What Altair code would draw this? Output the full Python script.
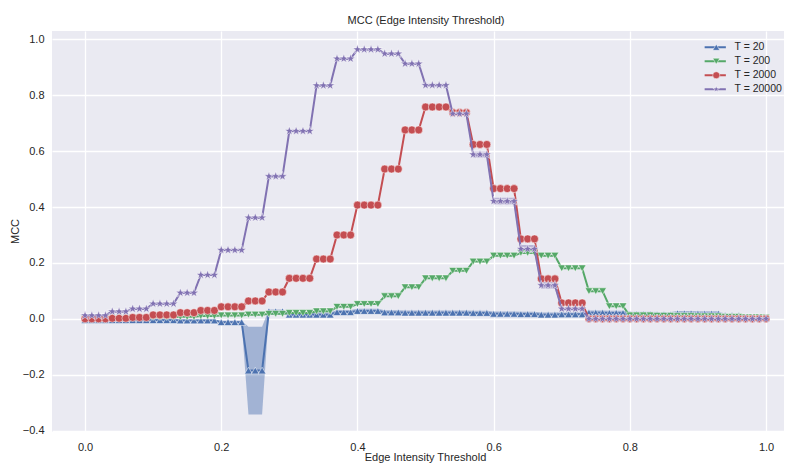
import altair as alt
import pandas as pd

FONT = "Liberation Sans, Arial, sans-serif"
TXT = "#262626"

series_labels = ["T = 20", "T = 200", "T = 2000", "T = 20000"]
series_colors = ["#4C72B0", "#55A868", "#C44E52", "#8172B2"]
STAR = ("M0,-1L0.2245,-0.309L0.951,-0.309L0.363,0.118L0.588,0.809L0,0.382"
        "L-0.588,0.809L-0.363,0.118L-0.951,-0.309L-0.2245,-0.309Z")
LINE_SYM = "M-3,0L3,0"
series_shapes = ["triangle-up", "triangle-down", "circle", STAR]
series_sizes = [60, 60, 64, 95]

x_ticks = [0.0, 0.2, 0.4, 0.6, 0.8, 1.0]
y_ticks = [-0.4, -0.2, 0.0, 0.2, 0.4, 0.6, 0.8, 1.0]

thresholds = [
    0.00, 0.01, 0.02, 0.03, 0.04, 0.05, 0.06, 0.07, 0.08, 0.09,
    0.10, 0.11, 0.12, 0.13, 0.14, 0.15, 0.16, 0.17, 0.18, 0.19,
    0.20, 0.21, 0.22, 0.23, 0.24, 0.25, 0.26, 0.27, 0.28, 0.29,
    0.30, 0.31, 0.32, 0.33, 0.34, 0.35, 0.36, 0.37, 0.38, 0.39,
    0.40, 0.41, 0.42, 0.43, 0.44, 0.45, 0.46, 0.47, 0.48, 0.49,
    0.50, 0.51, 0.52, 0.53, 0.54, 0.55, 0.56, 0.57, 0.58, 0.59,
    0.60, 0.61, 0.62, 0.63, 0.64, 0.65, 0.66, 0.67, 0.68, 0.69,
    0.70, 0.71, 0.72, 0.73, 0.74, 0.75, 0.76, 0.77, 0.78, 0.79,
    0.80, 0.81, 0.82, 0.83, 0.84, 0.85, 0.86, 0.87, 0.88, 0.89,
    0.90, 0.91, 0.92, 0.93, 0.94, 0.95, 0.96, 0.97, 0.98, 0.99,
    1.00,
]

mcc_t20 = [
    -0.005, -0.005, -0.005, -0.005,
    -0.005, -0.005, -0.005,
    -0.005, -0.005, -0.005,
    -0.005, -0.005, -0.005, -0.005,
    -0.006, -0.006, -0.006,
    -0.006, -0.006, -0.006,
    -0.012, -0.012, -0.012, -0.012,
    -0.185, -0.185, -0.185,
    0.027, 0.027, 0.027,
    0.015, 0.015, 0.015, 0.015,
    0.015, 0.015, 0.015,
    0.024, 0.024, 0.024,
    0.028, 0.028, 0.028, 0.028,
    0.023, 0.023, 0.023,
    0.022, 0.022, 0.022,
    0.022, 0.022, 0.022, 0.022,
    0.022, 0.022, 0.022,
    0.021, 0.021, 0.021,
    0.018, 0.018, 0.018, 0.018,
    0.017, 0.017, 0.017,
    0.015, 0.015, 0.015,
    0.016, 0.016, 0.016, 0.016,
    0.022, 0.022, 0.022,
    0.021, 0.021, 0.021,
    0.017, 0.017, 0.017, 0.017,
    0.016, 0.016, 0.016,
    0.020, 0.020, 0.020,
    0.019, 0.019, 0.019, 0.019,
    0.012, 0.012, 0.012,
    0.006, 0.006, 0.006,
    0.003,
]

err_t20 = [
    0.004, 0.004, 0.004, 0.004,
    0.004, 0.004, 0.004,
    0.004, 0.004, 0.004,
    0.004, 0.004, 0.004, 0.004,
    0.004, 0.004, 0.004,
    0.004, 0.004, 0.004,
    0.005, 0.005, 0.005, 0.005,
    0.157, 0.157, 0.157,
    0.006, 0.006, 0.006,
    0.008, 0.008, 0.008, 0.008,
    0.008, 0.008, 0.008,
    0.008, 0.008, 0.008,
    0.008, 0.008, 0.008, 0.008,
    0.008, 0.008, 0.008,
    0.008, 0.008, 0.008,
    0.008, 0.008, 0.008, 0.008,
    0.008, 0.008, 0.008,
    0.008, 0.008, 0.008,
    0.008, 0.008, 0.008, 0.008,
    0.008, 0.008, 0.008,
    0.008, 0.008, 0.008,
    0.008, 0.008, 0.008, 0.008,
    0.008, 0.008, 0.008,
    0.008, 0.008, 0.008,
    0.008, 0.008, 0.008, 0.008,
    0.008, 0.008, 0.008,
    0.008, 0.008, 0.008,
    0.008, 0.008, 0.008, 0.008,
    0.006, 0.006, 0.006,
    0.004, 0.004, 0.004,
    0.002,
]

mcc_t200 = [
    0.003, 0.003, 0.003, 0.003,
    0.003, 0.003, 0.003,
    0.004, 0.004, 0.004,
    0.006, 0.006, 0.006, 0.006,
    0.007, 0.007, 0.007,
    0.010, 0.010, 0.010,
    0.012, 0.012, 0.012, 0.012,
    0.015, 0.015, 0.015,
    0.018, 0.018, 0.018,
    0.021, 0.021, 0.021, 0.021,
    0.027, 0.027, 0.027,
    0.043, 0.043, 0.043,
    0.053, 0.053, 0.053, 0.053,
    0.081, 0.081, 0.081,
    0.113, 0.113, 0.113,
    0.145, 0.145, 0.145, 0.145,
    0.172, 0.172, 0.172,
    0.205, 0.205, 0.205,
    0.226, 0.226, 0.226, 0.226,
    0.236, 0.236, 0.236,
    0.226, 0.226, 0.226,
    0.181, 0.181, 0.181, 0.181,
    0.099, 0.099, 0.099,
    0.045, 0.045, 0.045,
    0.012, 0.012, 0.012, 0.012,
    0.011, 0.011, 0.011,
    0.010, 0.010, 0.010,
    0.009, 0.009, 0.009, 0.009,
    0.007, 0.007, 0.007,
    0.005, 0.005, 0.005,
    0.004,
]

mcc_t2000 = [
    0.000, 0.000, 0.000, 0.000,
    0.002, 0.002, 0.002,
    0.005, 0.005, 0.005,
    0.014, 0.014, 0.014, 0.014,
    0.022, 0.022, 0.022,
    0.030, 0.030, 0.030,
    0.043, 0.043, 0.043, 0.043,
    0.064, 0.064, 0.064,
    0.096, 0.096, 0.096,
    0.145, 0.145, 0.145, 0.145,
    0.214, 0.214, 0.214,
    0.300, 0.300, 0.300,
    0.407, 0.407, 0.407, 0.407,
    0.536, 0.536, 0.536,
    0.676, 0.676, 0.676,
    0.758, 0.758, 0.758, 0.758,
    0.738, 0.738, 0.738,
    0.624, 0.624, 0.624,
    0.466, 0.466, 0.466, 0.466,
    0.286, 0.286, 0.286,
    0.143, 0.143, 0.143,
    0.057, 0.057, 0.057, 0.057,
    0.000, 0.000, 0.000,
    0.000, 0.000, 0.000,
    0.000, 0.000, 0.000, 0.000,
    0.000, 0.000, 0.000,
    0.000, 0.000, 0.000,
    0.000, 0.000, 0.000, 0.000,
    0.000, 0.000, 0.000,
    0.000, 0.000, 0.000,
    0.000,
]

mcc_t20000 = [
    0.012, 0.012, 0.012, 0.012,
    0.026, 0.026, 0.026,
    0.036, 0.036, 0.036,
    0.054, 0.054, 0.054, 0.054,
    0.093, 0.093, 0.093,
    0.157, 0.157, 0.157,
    0.246, 0.246, 0.246, 0.246,
    0.362, 0.362, 0.362,
    0.510, 0.510, 0.510,
    0.672, 0.672, 0.672, 0.672,
    0.835, 0.835, 0.835,
    0.931, 0.931, 0.931,
    0.964, 0.964, 0.964, 0.964,
    0.949, 0.949, 0.949,
    0.913, 0.913, 0.913,
    0.836, 0.836, 0.836, 0.836,
    0.734, 0.734, 0.734,
    0.588, 0.588, 0.588,
    0.421, 0.421, 0.421, 0.421,
    0.250, 0.250, 0.250,
    0.120, 0.120, 0.120,
    0.036, 0.036, 0.036, 0.036,
    0.000, 0.000, 0.000,
    0.000, 0.000, 0.000,
    0.000, 0.000, 0.000, 0.000,
    0.000, 0.000, 0.000,
    0.000, 0.000, 0.000,
    0.000, 0.000, 0.000, 0.000,
    0.000, 0.000, 0.000,
    0.000, 0.000, 0.000,
    0.000,
]

err_t20000 = [
    0.004, 0.004, 0.004, 0.004,
    0.004, 0.004, 0.004,
    0.004, 0.004, 0.004,
    0.004, 0.004, 0.004, 0.004,
    0.004, 0.004, 0.004,
    0.004, 0.004, 0.004,
    0.004, 0.004, 0.004, 0.004,
    0.004, 0.004, 0.004,
    0.004, 0.004, 0.004,
    0.004, 0.004, 0.004, 0.004,
    0.004, 0.004, 0.004,
    0.004, 0.004, 0.004,
    0.004, 0.004, 0.004, 0.004,
    0.004, 0.004, 0.004,
    0.004, 0.004, 0.004,
    0.004, 0.004, 0.004, 0.004,
    0.006, 0.006, 0.006,
    0.011, 0.011, 0.011,
    0.012, 0.012, 0.012, 0.012,
    0.014, 0.014, 0.014,
    0.012, 0.012, 0.012,
    0.006, 0.006, 0.006, 0.006,
    0.002, 0.002, 0.002,
    0.002, 0.002, 0.002,
    0.002, 0.002, 0.002, 0.002,
    0.002, 0.002, 0.002,
    0.002, 0.002, 0.002,
    0.002, 0.002, 0.002, 0.002,
    0.002, 0.002, 0.002,
    0.002, 0.002, 0.002,
    0.002,
]

all_series = [mcc_t20, mcc_t200, mcc_t2000, mcc_t20000]
for arr in all_series + [err_t20, err_t20000]:
    assert len(arr) == len(thresholds), len(arr)

rows = []
for label, vals in zip(series_labels, all_series):
    for x, v in zip(thresholds, vals):
        rows.append({"x": x, "mcc": v, "series": label})
df = pd.DataFrame(rows)

band_rows = []
for label, vals, errs in [("T = 20", mcc_t20, err_t20), ("T = 20000", mcc_t20000, err_t20000)]:
    for x, v, e in zip(thresholds, vals, errs):
        band_rows.append({"x": x, "lo": v - e, "hi": v + e, "series": label})
band_df = pd.DataFrame(band_rows)

xscale = alt.Scale(domain=[-0.0485, 1.0264], nice=False, zero=False)
yscale = alt.Scale(domain=[-0.405, 1.03], nice=False, zero=False)
xaxis = alt.Axis(values=x_ticks, format=".1f", title="Edge Intensity Threshold",
                 titleX=373, titleY=25, titleBaseline="middle")
yaxis = alt.Axis(values=y_ticks, format=".1f", title="MCC", titleX=-37, titleY=200,
                 titleBaseline="middle")
cscale = alt.Scale(domain=series_labels, range=series_colors)
sscale = alt.Scale(domain=series_labels, range=series_shapes)

leg_line = alt.Legend(orient="none", legendX=658, legendY=11, title=None,
                      symbolType=LINE_SYM, symbolSize=50, symbolStrokeWidth=2,
                      labelFont=FONT, labelFontSize=10.5, labelColor=TXT,
                      labelOffset=14, rowPadding=3, padding=0)
leg_mark = alt.Legend(orient="none", legendX=659, legendY=11, title=None,
                      symbolSize=50, symbolStrokeColor="white", symbolStrokeWidth=0.5,
                      labelFont=FONT, labelFontSize=10.5, labelExpr="' '",
                      labelOffset=14, rowPadding=3, padding=0)

band = alt.Chart(band_df).mark_area(opacity=0.45).encode(
    x=alt.X("x:Q", scale=xscale, axis=xaxis),
    y=alt.Y("lo:Q", scale=yscale, axis=yaxis),
    y2="hi:Q",
    color=alt.Color("series:N", scale=cscale, legend=None),
)

layers = [band]
for i, label in enumerate(series_labels):
    base = alt.Chart(df).transform_filter(alt.datum.series == label)
    line = base.mark_line(strokeWidth=2).encode(
        x=alt.X("x:Q", scale=xscale, axis=xaxis),
        y=alt.Y("mcc:Q", scale=yscale, axis=yaxis),
        color=alt.Color("series:N", scale=cscale, legend=leg_line if i == 0 else None),
    )
    pts = base.mark_point(filled=True, size=series_sizes[i], opacity=1,
                          stroke="white", strokeWidth=0.5).encode(
        x=alt.X("x:Q", scale=xscale, axis=xaxis),
        y=alt.Y("mcc:Q", scale=yscale, axis=yaxis),
        color=alt.Color("series:N", scale=cscale, legend=leg_mark if i == 0 else None),
        shape=alt.Shape("series:N", scale=sscale, legend=leg_mark if i == 0 else None),
    )
    layers += [line, pts]

chart = alt.layer(*layers).resolve_scale(
    color="independent", shape="independent"
).properties(
    width=732,
    height=401,
    padding={"left": 44, "top": 23, "right": 0, "bottom": 32},
    autosize=alt.AutoSizeParams(type="none"),
    title=alt.TitleParams(text="MCC (Edge Intensity Threshold)", font=FONT, fontSize=11,
                          fontWeight="normal", color=TXT, anchor="middle", offset=5, dx=8),
).configure_view(
    fill="#EAEAF2", strokeWidth=0
).configure_axis(
    grid=True, gridColor="white", gridWidth=1.3, domain=False, ticks=False,
    labelFont=FONT, labelFontSize=11, labelColor=TXT,
    titleFont=FONT, titleFontSize=11, titleColor=TXT, titleFontWeight="normal",
).configure_axisX(
    labelPadding=9
).configure_axisY(
    labelPadding=8
)

chart.save("out.html", embed_options={"renderer": "svg", "actions": False})
